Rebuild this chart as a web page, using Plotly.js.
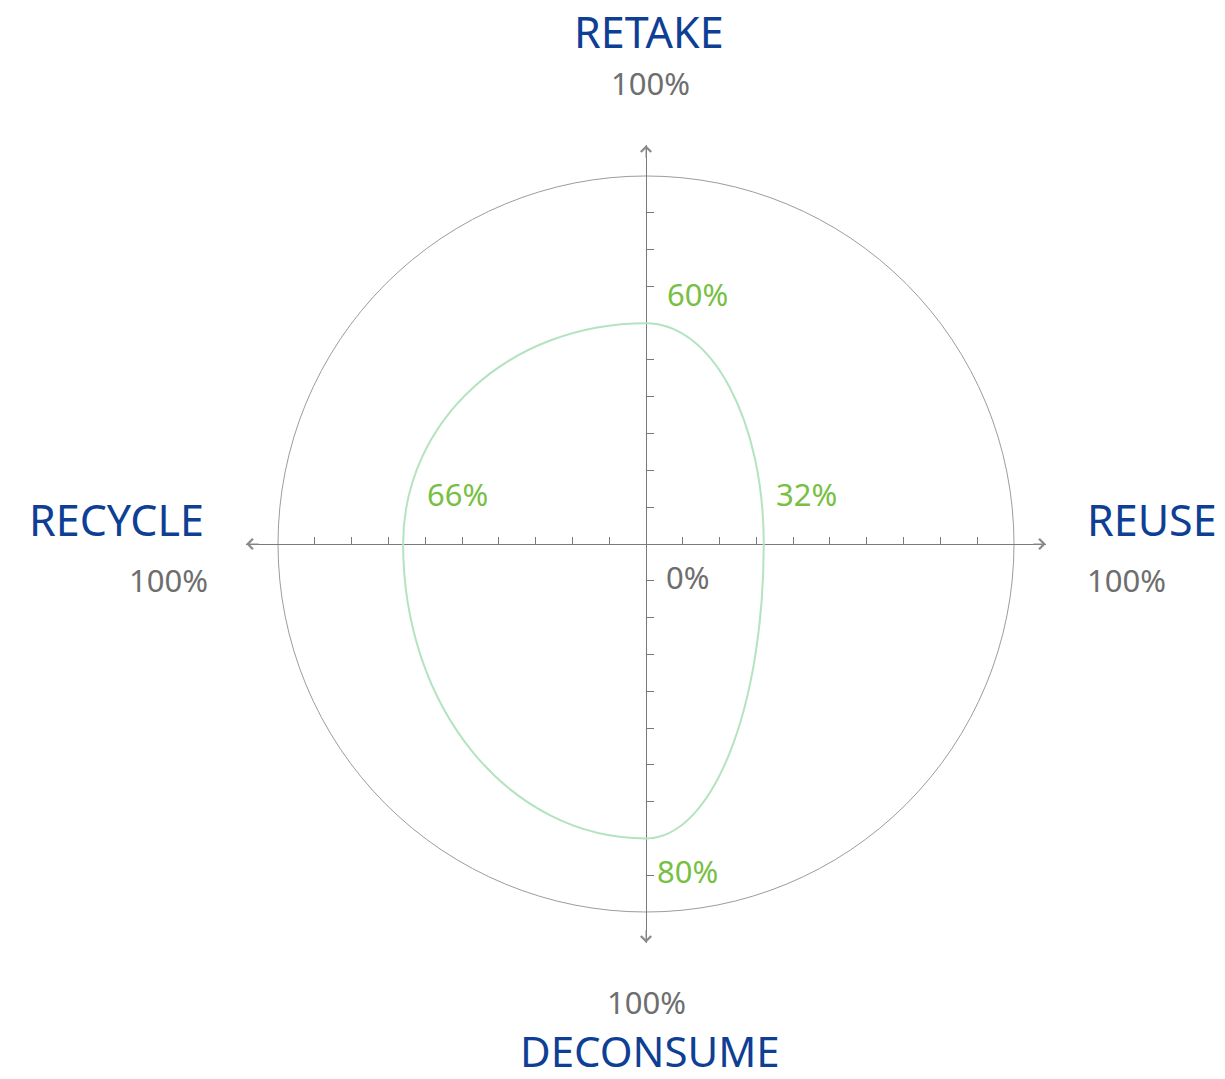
<!DOCTYPE html>
<html>
<head>
<meta charset="utf-8">
<script src="https://cdn.plot.ly/plotly-3.0.1.min.js"></script>
<style>
  html, body { margin: 0; padding: 0; background: #fff; }
  #chart { width: 1225px; height: 1079px; }
</style>
</head>
<body>
<div id="chart"></div>
<script>
// Four axes, clockwise from the top
const categories = ['RETAKE', 'REUSE', 'DECONSUME', 'RECYCLE'];
const angles = [90, 0, 270, 180];          // direction of each axis, degrees
const scores = [60, 32, 80, 66];           // percent
const axisMax = 100;
const tickVals = [-90, -80, -70, -60, -50, -40, -30, -20, -10, 10, 20, 30, 40, 50, 60, 70, 80, 90];

const BLUE = '#0e3f94';
const GREY = '#6e6e6e';
const GREEN = '#77c043';
const AXIS = '#7a7a7a';
const wordFont = 'Noto Sans, sans-serif';
const numFont = 'Noto Sans, sans-serif';

// polar -> cartesian
const rad = a => a * Math.PI / 180;
const ptX = scores.map((v, i) => v * Math.cos(rad(angles[i])));
const ptY = scores.map((v, i) => v * Math.sin(rad(angles[i])));

// closed curve through the four scores, one elliptic-looking arc per quadrant
const K = 0.56;
function curvePath() {
    let d = 'M' + ptX[0] + ',' + ptY[0];
    for (let i = 0; i < scores.length; i++) {
        const j = (i + 1) % scores.length;
        const ua = [Math.cos(rad(angles[i])), Math.sin(rad(angles[i]))];
        const ub = [Math.cos(rad(angles[j])), Math.sin(rad(angles[j]))];
        const c1 = [ptX[i] + K * scores[j] * ub[0], ptY[i] + K * scores[j] * ub[1]];
        const c2 = [ptX[j] + K * scores[i] * ua[0], ptY[j] + K * scores[i] * ua[1]];
        d += ' C' + c1.join(',') + ' ' + c2.join(',') + ' ' + ptX[j] + ',' + ptY[j];
    }
    return d + ' Z';
}

const xr = [-108.7, 108.7];
const yr = [-108.42, 108.42];

const baseAxis = {
    anchor: 'free',
    position: 0.5,
    tickvals: tickVals,
    ticklen: 7,
    tickwidth: 1,
    tickcolor: AXIS,
    showticklabels: false,
    showgrid: false,
    zeroline: false,
    fixedrange: true
};

// the four scores as (invisible) points so the axes carry data
const points = {
    x: ptX,
    y: ptY,
    mode: 'markers',
    marker: { size: 1, opacity: 0 },
    hoverinfo: 'skip'
};

// label offsets next to each point (pixels)
const valueShift = [[19, 29], [10, 50], [9, -33], [22, 50]];

const annotations = [];

scores.forEach((v, i) => {
    annotations.push({
        xref: 'x', yref: 'y',
        x: ptX[i], y: ptY[i],
        text: v + '%',
        showarrow: false,
        xanchor: 'left', yanchor: 'middle',
        xshift: valueShift[i][0], yshift: valueShift[i][1],
        font: { family: numFont, size: 31, color: GREEN }
    });
});

// centre label
annotations.push({
    xref: 'x', yref: 'y', x: 0, y: 0, text: '0%', showarrow: false,
    xanchor: 'left', yanchor: 'middle', xshift: 18, yshift: -33,
    font: { family: numFont, size: 31, color: GREY }
});

// axis names and their 100% marks
const namePos = [
    { x: 0.5, y: 1, xa: 'center', nx: 3, ny: 114, px: 4, py: 62, s: 43 },
    { x: 1, y: 0.5, xa: 'left', nx: 39, ny: 25, px: 39, py: -36, s: 43 },
    { x: 0.5, y: 0, xa: 'center', nx: 4, ny: -107, px: 0, py: -59, s: 42 },
    { x: 0, y: 0.5, xa: 'right', nx: -40, ny: 25, px: -36, py: -36, s: 43 }
];
categories.forEach((c, i) => {
    const p = namePos[i];
    annotations.push({
        xref: 'paper', yref: 'paper', x: p.x, y: p.y, text: c, showarrow: false,
        xanchor: p.xa, yanchor: 'middle', xshift: p.nx, yshift: p.ny,
        font: { family: wordFont, size: p.s, color: BLUE }
    });
    annotations.push({
        xref: 'paper', yref: 'paper', x: p.x, y: p.y, text: axisMax + '%', showarrow: false,
        xanchor: p.xa, yanchor: 'middle', xshift: p.px, yshift: p.py,
        font: { family: numFont, size: 31, color: GREY }
    });
});

// open arrow heads at the four ends of the cross
[[xr[1] - 0.05, 0, -14, 0], [xr[0] + 0.05, 0, 14, 0], [0, yr[1] - 0.05, 0, 14], [0, yr[0] + 0.05, 0, -14]].forEach(a => {
    annotations.push({
        xref: 'x', yref: 'y', x: a[0], y: a[1], ax: a[2], ay: a[3],
        text: '', showarrow: true, arrowhead: 4, arrowsize: 2, arrowwidth: 1,
        arrowcolor: '#8a8a8a', standoff: 0
    });
});

const layout = {
    width: 1225,
    height: 1079,
    margin: { l: 246, r: 179, t: 145, b: 136 },
    paper_bgcolor: '#fff',
    plot_bgcolor: '#fff',
    showlegend: false,
    xaxis: Object.assign({}, baseAxis, { range: xr, showline: true, linecolor: AXIS, linewidth: 1, ticks: 'inside' }),
    xaxis2: Object.assign({}, baseAxis, { range: xr, overlaying: 'x', showline: false, ticks: 'outside' }),
    yaxis: Object.assign({}, baseAxis, { range: yr, showline: true, linecolor: AXIS, linewidth: 1, ticks: 'inside' }),
    yaxis2: Object.assign({}, baseAxis, { range: yr, overlaying: 'y', showline: false, ticks: 'outside' }),
    shapes: [
        {
            type: 'circle', xref: 'x', yref: 'y',
            x0: -axisMax, x1: axisMax, y0: -axisMax, y1: axisMax,
            line: { color: '#9c9c9c', width: 1 },
            layer: 'below'
        },
        {
            type: 'path', xref: 'x', yref: 'y',
            path: curvePath(),
            line: { color: '#b4e3c0', width: 2 },
            layer: 'above'
        }
    ],
    annotations: annotations
};

Plotly.newPlot('chart', [points], layout, { displayModeBar: false, staticPlot: true });
</script>
</body>
</html>
